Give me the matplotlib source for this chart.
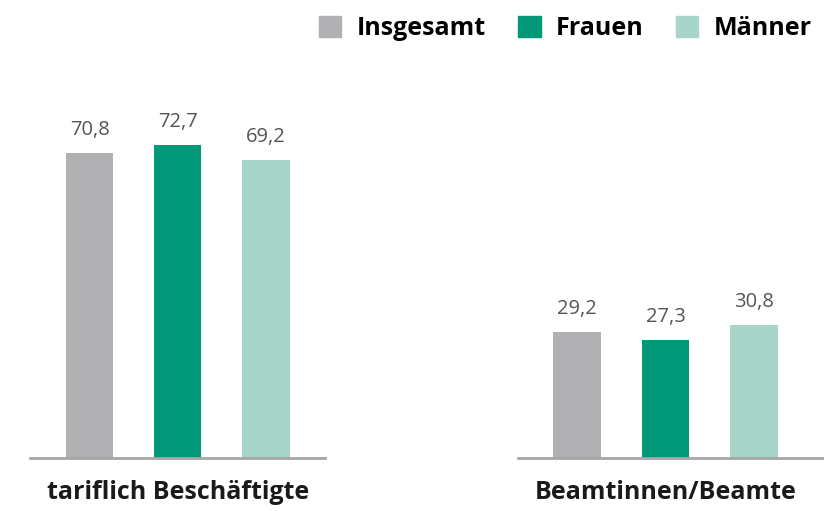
import matplotlib.pyplot as plt
from matplotlib.patches import Patch

groups = ["tariflich Beschäftigte", "Beamtinnen/Beamte"]
series = ["Insgesamt", "Frauen", "Männer"]
values = {
    "tariflich Beschäftigte": [70.8, 72.7, 69.2],
    "Beamtinnen/Beamte": [29.2, 27.3, 30.8],
}
colors = ["#B1B1B3", "#009878", "#A8D5C9"]

plt.rcParams["font.family"] = ["Open Sans", "DejaVu Sans"]

W, H = 824, 511
fig = plt.figure(figsize=(W / 100, H / 100), dpi=100)

# axes placement in pixels: (left, right), baseline at y=458
spans = [(30, 325), (518, 822)]
xlims = [(-0.68, 2.67), (-0.667, 2.77)]
base, top = 458, 100

for g, (x0, x1), xl in zip(groups, spans, xlims):
    ax = fig.add_axes([x0 / W, (H - base) / H, (x1 - x0) / W, (base - top) / H])
    vals = values[g]
    bars = ax.bar(range(3), vals, width=0.535, color=colors)
    for b, v in zip(bars, vals):
        ax.text(b.get_x() + b.get_width() / 2, v + 3.0, f"{v:.1f}".replace(".", ","),
                ha="center", va="bottom", fontsize=14.5, color="#555555")
    ax.set_xlim(*xl)
    ax.set_ylim(0, 83.1)
    for s in ["top", "right", "left"]:
        ax.spines[s].set_visible(False)
    ax.spines["bottom"].set_color("#A6A6A6")
    ax.spines["bottom"].set_linewidth(2)
    ax.set_yticks([])
    ax.set_xticks([1])
    ax.set_xticklabels([g], fontsize=18, fontweight="bold", color="#1A1A1A")
    ax.tick_params(axis="x", length=0, pad=16)

handles = [Patch(color=c, label=s) for c, s in zip(colors, series)]
fig.legend(handles=handles, loc="upper right", bbox_to_anchor=(1.012, 1.012), ncol=3,
           frameon=False, handlelength=0.9, handleheight=0.9, handletextpad=0.6,
           columnspacing=1.3, prop={"size": 18, "weight": "bold"})

fig.savefig("out.png", dpi=100)
